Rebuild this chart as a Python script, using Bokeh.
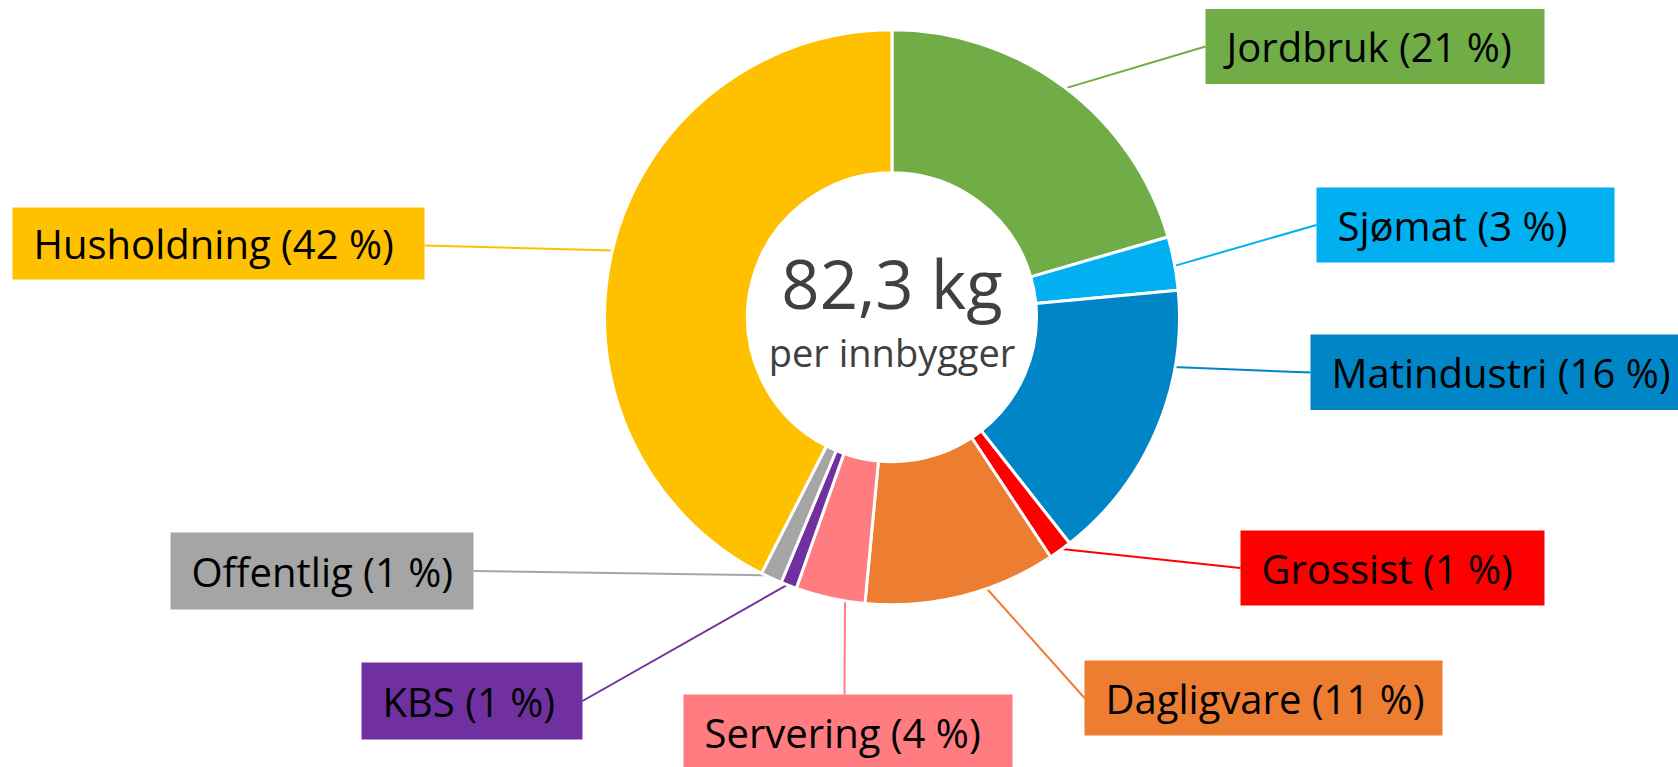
import math
from bokeh.plotting import figure
from bokeh.models import Range1d
from bokeh.embed import file_html
from bokeh.resources import INLINE
from bokeh.core.properties import value

# ---------------- data ----------------
categories = ["Jordbruk", "Sjømat", "Matindustri", "Grossist", "Dagligvare",
              "Servering", "KBS", "Offentlig", "Husholdning"]
shares = [20.5, 3.0, 15.9, 1.3, 10.8, 3.9, 0.9, 1.2, 42.5]
pct_labels = ["21 %", "3 %", "16 %", "1 %", "11 %", "4 %", "1 %", "1 %", "42 %"]
colors = ["#70AD47", "#00B0F0", "#0086C6", "#FF0000", "#ED7D31",
          "#FF7C80", "#7030A0", "#A5A5A5", "#FFC000"]
total_label = "82,3 kg"
sub_label = "per innbygger"

# ---------------- layout (screen pixels of the reference) ----------------
PW, PH = 1678, 767
def Y(ys):
    return PH - ys

CX, CY = 891.5, 316.7
R_OUT, R_IN = 287.5, 144.5

# label boxes: left, top, right, bottom (screen coords)
box_l = [1205, 1316, 1310, 1240, 1084, 683, 361, 170, 12]
box_t = [8.5, 187, 334, 530, 660, 694, 662, 532, 207]
box_r = [1544, 1614, 1690, 1544, 1442, 1012, 582, 473, 424]
box_b = [83.5, 262, 409.5, 605, 735, 780, 739, 609, 279]
box_mid = [46, 224.5, 372, 567.5, 697.5, 731.5, 700.5, 570.5, 243]
# leader anchor on box
anc_x = [1205, 1316, 1310, 1240, 1084, 844, 582, 473, 424]
anc_y = [46, 224.5, 372, 567.5, 697.5, 694, 700.5, 570.5, 245]
# where along the slice arc the leader starts (0..1)
lead_frac = [0.5, 0.55, 0.27, 0.5, 0.37, 0.29, 0.5, 0.6, 0.5]

p = figure(width=PW, height=PH, x_range=Range1d(0, PW), y_range=Range1d(0, PH),
           output_backend="svg", toolbar_location=None, min_border=0,
           x_axis_location=None, y_axis_location=None)
p.grid.visible = False
p.outline_line_color = None
p.background_fill_color = "white"
p.border_fill_color = "white"

total = sum(shares)
cum = [0.0]
for s in shares:
    cum.append(cum[-1] + s)

# leader lines
x0s, y0s, x1s, y1s = [], [], [], []
for i in range(len(shares)):
    a = (cum[i] + lead_frac[i] * shares[i]) / total * 2 * math.pi
    sx = CX + (R_OUT - 2) * math.sin(a)
    sy = CY - (R_OUT - 2) * math.cos(a)
    x0s.append(sx); y0s.append(Y(sy))
    x1s.append(anc_x[i]); y1s.append(Y(anc_y[i]))
p.segment(x0=x0s, y0=y0s, x1=x1s, y1=y1s, line_color=colors, line_width=2)

# donut
starts = [math.pi / 2 - cum[i] / total * 2 * math.pi for i in range(len(shares))]
ends = [math.pi / 2 - cum[i + 1] / total * 2 * math.pi for i in range(len(shares))]
p.annular_wedge(x=CX, y=Y(CY), inner_radius=R_IN, outer_radius=R_OUT,
                start_angle=starts, end_angle=ends, direction="clock",
                fill_color=colors, line_color="white", line_width=3)

# label boxes
p.quad(left=box_l, right=box_r, top=[Y(t) for t in box_t], bottom=[Y(b) for b in box_b],
       fill_color=colors, line_color=None)

# label texts
txt = [f"{c} ({pc})" for c, pc in zip(categories, pct_labels)]
tx = [l + 21 for l in box_l]
ty = [Y(m) for m in box_mid]
p.text(x=tx, y=ty, text=txt, text_font=value("Open Sans"), text_font_size="40px",
       text_align="left", text_baseline="middle", text_color="black")

# centre texts
p.text(x=[CX], y=[Y(282)], text=[total_label], text_font=value("Open Sans"),
       text_font_size="67px", text_align="center", text_baseline="middle",
       text_color="#404040")
p.text(x=[CX], y=[Y(351)], text=[sub_label], text_font=value("Open Sans"),
       text_font_size="38px", text_align="center", text_baseline="middle",
       text_color="#404040")

open("out.html", "w").write(file_html(p, INLINE))
